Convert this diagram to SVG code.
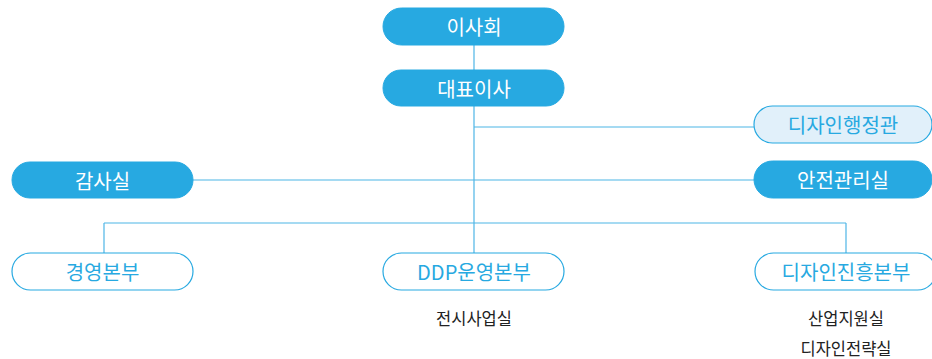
<svg xmlns="http://www.w3.org/2000/svg" width="932" height="359" viewBox="0 0 932 359">
<style>
.solid rect{fill:#27a9e1;stroke:#27a9e1;stroke-width:1}
.solid text{fill:#ffffff}
.light rect{fill:#e1f0fa;stroke:#27a9e1;stroke-width:1.2}
.light text{fill:#27a9e1}
.outline rect{fill:#ffffff;stroke:#27a9e1;stroke-width:1.2}
.outline text{fill:#27a9e1}
text{font-family:"Noto Sans CJK KR","Noto Sans",sans-serif;font-size:20px;font-weight:400;text-anchor:middle;dominant-baseline:central}
.sub{fill:#222222;font-size:16.5px;font-weight:400}
.conn line{stroke:#4db5e6;stroke-width:1.2}
</style>
<g id="connectors" class="conn">
<line x1="474" y1="45" x2="474" y2="70"/>
<line x1="474" y1="106" x2="474" y2="253"/>
<line x1="474" y1="127" x2="754" y2="127"/>
<line x1="193" y1="180" x2="754" y2="180"/>
<line x1="104" y1="223" x2="846" y2="223"/>
<line x1="104" y1="223" x2="104" y2="253"/>
<line x1="846" y1="223" x2="846" y2="253"/>
</g>
<g id="board" class="solid"><rect x="383" y="8" width="181" height="37" rx="18.5"/><text x="474" y="26.5">이사회</text></g>
<g id="ceo" class="solid"><rect x="383" y="70" width="181" height="36" rx="18"/><text x="474" y="88">대표이사</text></g>
<g id="design-admin" class="light"><rect x="754" y="106" width="178" height="37" rx="18.5"/><text x="843" y="124.5">디자인행정관</text></g>
<g id="audit" class="solid"><rect x="12" y="162" width="181" height="36" rx="18"/><text x="102.5" y="180">감사실</text></g>
<g id="safety" class="solid"><rect x="754" y="161" width="178" height="37" rx="18.5"/><text x="843" y="179.5">안전관리실</text></g>
<g id="management" class="outline"><rect x="12" y="253" width="181" height="37" rx="18.5"/><text x="102.5" y="271.5">경영본부</text></g>
<g id="ddp" class="outline"><rect x="383" y="253" width="181" height="37" rx="18.5"/><text x="474" y="271.5">DDP운영본부</text></g>
<g id="design-promo" class="outline"><rect x="755" y="253" width="181" height="37" rx="18.5"/><text x="846" y="271.5">디자인진흥본부</text></g>
<g id="sub-texts">
<text class="sub" x="474" y="318">전시사업실</text>
<text class="sub" x="846" y="318">산업지원실</text>
<text class="sub" x="846" y="348">디자인전략실</text>
</g>
</svg>
